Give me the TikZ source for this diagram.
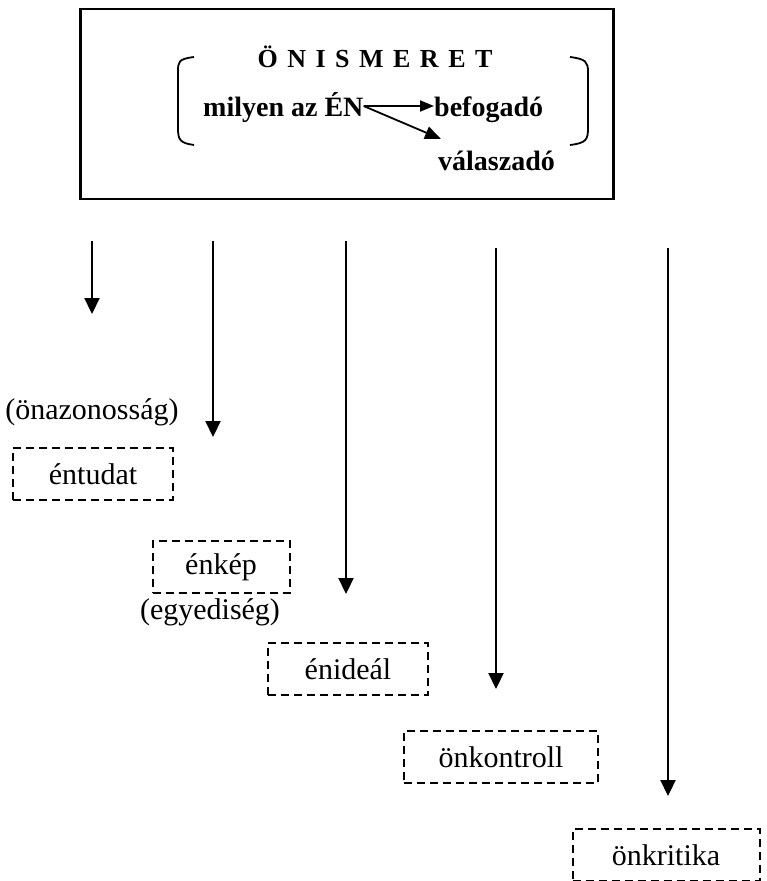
\documentclass[tikz,border=0pt]{standalone}
\usepackage{fontspec}
\setmainfont{Liberation Serif}
\usetikzlibrary{arrows.meta}
\tikzset{
  conn/.style={line width=2.2pt,-{Triangle[width=15pt,length=16pt]}},
  inarr/.style={line width=1.8pt,-{Triangle[width=11pt,length=14pt]}},
  dbox/.style={draw,line width=2pt,dash pattern=on 8pt off 5pt,minimum height=52pt,inner sep=0pt,font=\fontsize{30}{36}\selectfont},
  lbl/.style={inner sep=0pt,font=\fontsize{30}{36}\selectfont},
  bl/.style={inner sep=0pt,font=\fontsize{28}{34}\selectfont\bfseries},
  brk/.style={line width=1.8pt}
}
\begin{document}
\begin{tikzpicture}[x=1pt,y=-1pt]
\useasboundingbox (0,0) rectangle (767,881);
% outer box
\node[draw,line width=2.2pt,minimum width=533pt,minimum height=190pt,inner sep=0pt] (main) at (347,104) {};
% brackets
\draw[brk] (194,57) .. controls (178,59) and (178,62) .. (178,72) -- (178,128) .. controls (178,140) and (180,143) .. (194,145);
\draw[brk] (570,57) .. controls (586,59) and (588,62) .. (588,72) -- (588,128) .. controls (588,140) and (586,143) .. (570,145);
% texts in box
\node[inner sep=0pt,font=\fontsize{26}{30}\selectfont\bfseries] (title) at (375,57) {Ö\hspace{9.5pt}N\hspace{9.5pt}I\hspace{9.5pt}S\hspace{9.5pt}M\hspace{9.5pt}E\hspace{9.5pt}R\hspace{9.5pt}E\hspace{9.5pt}T};
\node[bl,anchor=base west] (milyen) at (203,116) {milyen az ÉN};
\node[bl,anchor=base west] (befog) at (434,116) {befogadó};
\node[bl,anchor=base west] (valasz) at (438,170) {válaszadó};
\coordinate (en) at (milyen.east |- 0,106);
\draw[inarr] (en) -- (befog.west |- 0,106);
\draw[line width=1.8pt,-{Triangle[width=13pt,length=16pt]}] (en) -- (441,139);
% down arrows
\coordinate (a1s) at (92,241); \coordinate (a1e) at (92,314);
\coordinate (a2s) at (213,241); \coordinate (a2e) at (213,437);
\coordinate (a3s) at (346,241); \coordinate (a3e) at (346,594);
\coordinate (a4s) at (496,248); \coordinate (a4e) at (496,689);
\coordinate (a5s) at (668,248); \coordinate (a5e) at (668,796);
\draw[conn] (a1s) -- (a1e);
\draw[conn] (a2s) -- (a2e);
\draw[conn] (a3s) -- (a3e);
\draw[conn] (a4s) -- (a4e);
\draw[conn] (a5s) -- (a5e);
% labels and boxes
\node[lbl] (onaz) at (92,412) {(önazonosság)};
\node[dbox,minimum width=160pt] (entudat) at (93,474) {éntudat};
\node[dbox,minimum width=137pt] (enkep) at (221,567) {énkép};
\node[lbl] (egyed) at (210,612) {(egyediség)};
\node[dbox,minimum width=160pt] (enideal) at (348,669) {énideál};
\node[dbox,minimum width=194pt] (onkontroll) at (501,757) {önkontroll};
\node[dbox,minimum width=187pt] (onkritika) at (666,855) {önkritika};
\end{tikzpicture}
\end{document}
